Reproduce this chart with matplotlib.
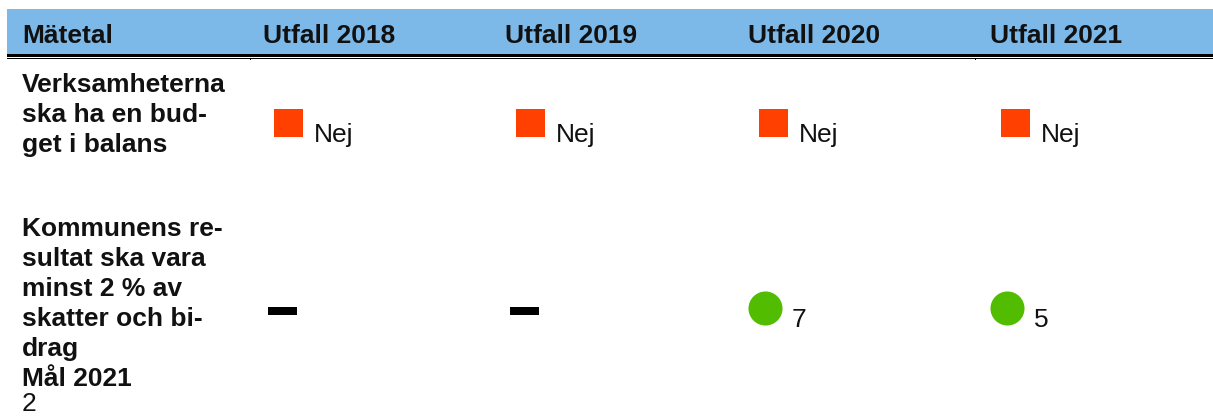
#!/usr/bin/env python3

"""
Table of goal follow-up (Mätetal / Utfall 2018-2021) drawn with matplotlib.
"""

import matplotlib
matplotlib.use("Agg")
import matplotlib.pyplot as plt
from matplotlib.patches import Rectangle

W, H = 1213, 416
DPI = 100
FONT = "Liberation Sans"
SIZE = 19

BLUE = "#7cb9e8"
RED = "#ff4000"
GREEN = "#52bd00"

# table content
HEADERS = ["Mätetal", "Utfall 2018", "Utfall 2019", "Utfall 2020", "Utfall 2021"]
ROW_LABELS = [
    ["Verksamheterna", "ska ha en bud-", "get i balans"],
    ["Kommunens re-", "sultat ska vara", "minst 2 % av", "skatter och bi-",
     "drag", "Mål 2021"],
]
ROW_NOTES = ["", "2"]
# status per year: "red" square, "green" circle, "none" dash
STATUS = [
    ["red", "red", "red", "red"],
    ["none", "none", "green", "green"],
]
VALUES = [
    ["Nej", "Nej", "Nej", "Nej"],
    ["", "", "7", "5"],
]

# layout in pixels
COL_X = [22, 263, 505, 748, 990]
ROW_TOP = [92, 236]       # baseline of first label line
ROW_MARK_Y = [123, 311]   # centre of status marks
LINE_H = 29.9


def main():
    fig = plt.figure(figsize=(W / DPI, H / DPI), dpi=DPI)
    ax = fig.add_axes([0, 0, 1, 1])
    ax.set_xlim(0, W)
    ax.set_ylim(H, 0)
    ax.axis("off")

    # header band and double rule
    ax.add_patch(Rectangle((7, 9), W - 7, 45, color=BLUE, lw=0))
    ax.add_patch(Rectangle((7, 54), W - 7, 2.6, color="black", lw=0))
    ax.add_patch(Rectangle((7, 57.6), W - 7, 1.1, color="black", lw=0))
    for x in (250, 975):
        ax.add_patch(Rectangle((x, 58), 1.2, 2, color="black", lw=0))

    for x, h in zip(COL_X, HEADERS):
        ax.text(x, 43, h, family=FONT, fontsize=SIZE, weight="bold",
                va="baseline", ha="left", color="#111111")

    for r, lines in enumerate(ROW_LABELS):
        y = ROW_TOP[r]
        for i, line in enumerate(lines):
            ax.text(COL_X[0], y + i * LINE_H, line, family=FONT, fontsize=SIZE,
                    weight="bold", va="baseline", ha="left", color="#111111")
        if ROW_NOTES[r]:
            ax.text(COL_X[0], y + len(lines) * LINE_H - 4, ROW_NOTES[r], family=FONT,
                    fontsize=SIZE, va="baseline", ha="left", color="#111111")

        ym = ROW_MARK_Y[r]
        for c, (st, val) in enumerate(zip(STATUS[r], VALUES[r])):
            x0 = COL_X[c + 1] + 11
            if st == "red":
                ax.add_patch(Rectangle((x0, ym - 14), 29, 28, color=RED, lw=0))
                ax.text(x0 + 40, ym + 19, val, family=FONT, fontsize=SIZE,
                        va="baseline", ha="left", color="#111111")
            elif st == "green":
                ax.scatter([x0 + 6], [ym - 3], s=34 ** 2 * 0.52, color=GREEN,
                           marker="o", lw=0)
                ax.text(x0 + 33, ym + 16, val, family=FONT, fontsize=SIZE,
                        va="baseline", ha="left", color="#111111")
            else:
                ax.add_patch(Rectangle((x0 - 6, ym - 4), 29, 7.5, color="black", lw=0))

    fig.savefig("out.png", dpi=DPI)


if __name__ == "__main__":
    main()
